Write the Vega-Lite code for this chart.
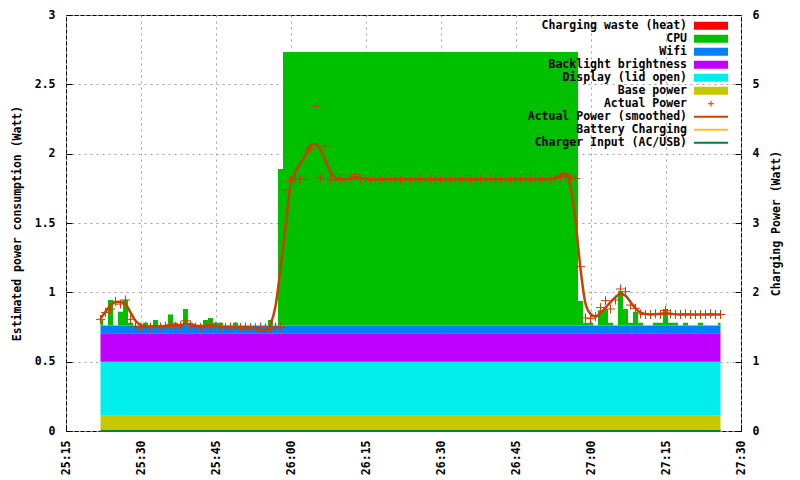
{
 "$schema": "https://vega.github.io/schema/vega-lite/v6.json",
 "width": 675, "height": 416,
 "autosize": {"type": "none"},
 "padding": {"left": 66, "top": 15, "right": 59, "bottom": 49},
 "background": "white",
 "config": {
  "font": "DejaVu Sans Mono",
  "view": {"stroke": "black", "strokeWidth": 1},
  "axis": {"labelFont": "DejaVu Sans Mono", "labelFontSize": 11.5, "labelFontWeight": "bold", "labelColor": "black",
           "titleFont": "DejaVu Sans Mono", "titleFontSize": 11.5, "titleFontWeight": "bold", "titleColor": "black",
           "domain": false, "tickColor": "black", "tickSize": -6, "tickWidth": 1,
           "gridColor": "#a0a0a0", "gridDash": [2, 4], "gridWidth": 1}
 },
 "datasets": {
  "components": [
   {"key": "base", "label": "Base power", "rank": 1},
   {"key": "display", "label": "Display (lid open)", "rank": 2},
   {"key": "backlight", "label": "Backlight brightness", "rank": 3},
   {"key": "wifi", "label": "Wifi", "rank": 4},
   {"key": "cpu", "label": "CPU", "rank": 5},
   {"key": "batt", "label": "Battery Charging", "rank": 9},
   {"key": "input", "label": "Charger Input (AC/USB)", "rank": 10}
  ],
  "power": [
   {"t":1521.9,"base":0.11,"display":0.39,"backlight":0.205,"wifi":0.055,"cpu":0.045,"actual":0.805,"smooth":0.81,"batt":0,"input":0},
   {"t":1522.9,"base":0.11,"display":0.39,"backlight":0.205,"wifi":0.055,"cpu":0,"actual":0.855,"smooth":0.86,"batt":0,"input":0},
   {"t":1523.9,"base":0.11,"display":0.39,"backlight":0.205,"wifi":0.055,"cpu":0.185,"actual":0.88,"smooth":0.905,"batt":0,"input":0},
   {"t":1524.9,"base":0.11,"display":0.39,"backlight":0.205,"wifi":0.055,"cpu":0,"actual":0.935,"smooth":0.93,"batt":0,"input":0},
   {"t":1525.9,"base":0.11,"display":0.39,"backlight":0.205,"wifi":0.055,"cpu":0.1,"actual":0.915,"smooth":0.93,"batt":0,"input":0},
   {"t":1526.9,"base":0.11,"display":0.39,"backlight":0.205,"wifi":0.055,"cpu":0.185,"actual":0.945,"smooth":0.915,"batt":0,"input":0},
   {"t":1527.9,"base":0.11,"display":0.39,"backlight":0.205,"wifi":0.055,"cpu":0.02,"actual":0.805,"smooth":0.855,"batt":0,"input":0},
   {"t":1528.9,"base":0.11,"display":0.39,"backlight":0.205,"wifi":0.055,"cpu":0,"actual":0.752,"smooth":0.795,"batt":0,"input":0},
   {"t":1529.9,"base":0.11,"display":0.39,"backlight":0.205,"wifi":0.055,"cpu":0,"actual":0.745,"smooth":0.765,"batt":0,"input":0},
   {"t":1530.9,"base":0.11,"display":0.39,"backlight":0.205,"wifi":0.055,"cpu":0.02,"actual":0.755,"smooth":0.755,"batt":0,"input":0},
   {"t":1531.9,"base":0.11,"display":0.39,"backlight":0.205,"wifi":0.055,"cpu":0,"actual":0.75,"smooth":0.752,"batt":0,"input":0},
   {"t":1532.9,"base":0.11,"display":0.39,"backlight":0.205,"wifi":0.055,"cpu":0.04,"actual":0.76,"smooth":0.755,"batt":0,"input":0},
   {"t":1533.9,"base":0.11,"display":0.39,"backlight":0.205,"wifi":0.055,"cpu":0,"actual":0.75,"smooth":0.755,"batt":0,"input":0},
   {"t":1534.9,"base":0.11,"display":0.39,"backlight":0.205,"wifi":0.055,"cpu":0,"actual":0.755,"smooth":0.757,"batt":0,"input":0},
   {"t":1535.9,"base":0.11,"display":0.39,"backlight":0.205,"wifi":0.055,"cpu":0.08,"actual":0.765,"smooth":0.76,"batt":0,"input":0},
   {"t":1536.9,"base":0.11,"display":0.39,"backlight":0.205,"wifi":0.055,"cpu":0.02,"actual":0.755,"smooth":0.762,"batt":0,"input":0},
   {"t":1537.9,"base":0.11,"display":0.39,"backlight":0.205,"wifi":0.055,"cpu":0,"actual":0.76,"smooth":0.765,"batt":0,"input":0},
   {"t":1538.9,"base":0.11,"display":0.39,"backlight":0.205,"wifi":0.055,"cpu":0.12,"actual":0.795,"smooth":0.772,"batt":0,"input":0},
   {"t":1539.9,"base":0.11,"display":0.39,"backlight":0.205,"wifi":0.055,"cpu":0.02,"actual":0.765,"smooth":0.768,"batt":0,"input":0},
   {"t":1540.9,"base":0.11,"display":0.39,"backlight":0.205,"wifi":0.055,"cpu":0,"actual":0.75,"smooth":0.76,"batt":0,"input":0},
   {"t":1541.9,"base":0.11,"display":0.39,"backlight":0.205,"wifi":0.055,"cpu":0,"actual":0.745,"smooth":0.757,"batt":0,"input":0},
   {"t":1542.9,"base":0.11,"display":0.39,"backlight":0.205,"wifi":0.055,"cpu":0.04,"actual":0.76,"smooth":0.758,"batt":0,"input":0},
   {"t":1543.9,"base":0.11,"display":0.39,"backlight":0.205,"wifi":0.055,"cpu":0.055,"actual":0.765,"smooth":0.76,"batt":0,"input":0},
   {"t":1544.9,"base":0.11,"display":0.39,"backlight":0.205,"wifi":0.055,"cpu":0.02,"actual":0.755,"smooth":0.757,"batt":0,"input":0},
   {"t":1545.9,"base":0.11,"display":0.39,"backlight":0.205,"wifi":0.055,"cpu":0.02,"actual":0.75,"smooth":0.753,"batt":0,"input":0},
   {"t":1546.9,"base":0.11,"display":0.39,"backlight":0.205,"wifi":0.055,"cpu":0,"actual":0.745,"smooth":0.75,"batt":0,"input":0},
   {"t":1547.9,"base":0.11,"display":0.39,"backlight":0.205,"wifi":0.055,"cpu":0,"actual":0.75,"smooth":0.75,"batt":0,"input":0},
   {"t":1548.9,"base":0.11,"display":0.39,"backlight":0.205,"wifi":0.055,"cpu":0.02,"actual":0.755,"smooth":0.75,"batt":0,"input":0},
   {"t":1549.9,"base":0.11,"display":0.39,"backlight":0.205,"wifi":0.055,"cpu":0,"actual":0.745,"smooth":0.748,"batt":0,"input":0},
   {"t":1550.9,"base":0.11,"display":0.39,"backlight":0.205,"wifi":0.055,"cpu":0,"actual":0.75,"smooth":0.746,"batt":0,"input":0},
   {"t":1551.9,"base":0.11,"display":0.39,"backlight":0.205,"wifi":0.055,"cpu":0,"actual":0.745,"smooth":0.743,"batt":0,"input":0},
   {"t":1552.9,"base":0.11,"display":0.39,"backlight":0.205,"wifi":0.055,"cpu":0,"actual":0.745,"smooth":0.735,"batt":0,"input":0},
   {"t":1553.9,"base":0.11,"display":0.39,"backlight":0.205,"wifi":0.055,"cpu":0,"actual":0.75,"smooth":0.724,"batt":0,"input":0},
   {"t":1554.9,"base":0.11,"display":0.39,"backlight":0.205,"wifi":0.055,"cpu":0,"actual":0.745,"smooth":0.722,"batt":0,"input":0},
   {"t":1555.9,"base":0.11,"display":0.39,"backlight":0.205,"wifi":0.055,"cpu":0.04,"actual":0.74,"smooth":0.77,"batt":0,"input":0},
   {"t":1556.9,"base":0.11,"display":0.39,"backlight":0.205,"wifi":0.055,"cpu":0,"actual":0.75,"smooth":0.9,"batt":0,"input":0},
   {"t":1557.9,"base":0.11,"display":0.39,"backlight":0.205,"wifi":0.055,"cpu":1.13,"actual":0.75,"smooth":1.17,"batt":0,"input":0},
   {"t":1558.9,"base":0.11,"display":0.39,"backlight":0.205,"wifi":0.055,"cpu":1.973,"actual":1.74,"smooth":1.47,"batt":0,"input":0},
   {"t":1559.9,"base":0.11,"display":0.39,"backlight":0.205,"wifi":0.055,"cpu":1.973,"actual":1.805,"smooth":1.77,"batt":0,"input":0},
   {"t":1560.9,"base":0.11,"display":0.39,"backlight":0.205,"wifi":0.055,"cpu":1.973,"actual":1.815,"smooth":1.87,"batt":0,"input":0},
   {"t":1561.9,"base":0.11,"display":0.39,"backlight":0.205,"wifi":0.055,"cpu":1.973,"actual":1.815,"smooth":1.93,"batt":0,"input":0},
   {"t":1562.9,"base":0.11,"display":0.39,"backlight":0.205,"wifi":0.055,"cpu":1.973,"actual":1.815,"smooth":1.99,"batt":0,"input":0},
   {"t":1563.9,"base":0.11,"display":0.39,"backlight":0.205,"wifi":0.055,"cpu":1.973,"actual":2.04,"smooth":2.06,"batt":0,"input":0},
   {"t":1564.9,"base":0.11,"display":0.39,"backlight":0.205,"wifi":0.055,"cpu":1.973,"actual":2.34,"smooth":2.07,"batt":0,"input":0},
   {"t":1565.9,"base":0.11,"display":0.39,"backlight":0.205,"wifi":0.055,"cpu":1.973,"actual":1.825,"smooth":2.03,"batt":0,"input":0},
   {"t":1566.9,"base":0.11,"display":0.39,"backlight":0.205,"wifi":0.055,"cpu":1.973,"actual":2.055,"smooth":1.95,"batt":0,"input":0},
   {"t":1567.9,"base":0.11,"display":0.39,"backlight":0.205,"wifi":0.055,"cpu":1.973,"actual":1.815,"smooth":1.87,"batt":0,"input":0},
   {"t":1568.9,"base":0.11,"display":0.39,"backlight":0.205,"wifi":0.055,"cpu":1.973,"actual":1.81,"smooth":1.825,"batt":0,"input":0},
   {"t":1569.9,"base":0.11,"display":0.39,"backlight":0.205,"wifi":0.055,"cpu":1.973,"actual":1.815,"smooth":1.815,"batt":0,"input":0},
   {"t":1570.9,"base":0.11,"display":0.39,"backlight":0.205,"wifi":0.055,"cpu":1.973,"actual":1.815,"smooth":1.815,"batt":0,"input":0},
   {"t":1571.9,"base":0.11,"display":0.39,"backlight":0.205,"wifi":0.055,"cpu":1.973,"actual":1.82,"smooth":1.82,"batt":0,"input":0},
   {"t":1572.9,"base":0.11,"display":0.39,"backlight":0.205,"wifi":0.055,"cpu":1.973,"actual":1.85,"smooth":1.83,"batt":0,"input":0},
   {"t":1573.9,"base":0.11,"display":0.39,"backlight":0.205,"wifi":0.055,"cpu":1.973,"actual":1.815,"smooth":1.825,"batt":0,"input":0},
   {"t":1574.9,"base":0.11,"display":0.39,"backlight":0.205,"wifi":0.055,"cpu":1.973,"actual":1.815,"smooth":1.818,"batt":0,"input":0},
   {"t":1575.9,"base":0.11,"display":0.39,"backlight":0.205,"wifi":0.055,"cpu":1.973,"actual":1.81,"smooth":1.815,"batt":0,"input":0},
   {"t":1576.9,"base":0.11,"display":0.39,"backlight":0.205,"wifi":0.055,"cpu":1.973,"actual":1.815,"smooth":1.815,"batt":0,"input":0},
   {"t":1577.9,"base":0.11,"display":0.39,"backlight":0.205,"wifi":0.055,"cpu":1.973,"actual":1.815,"smooth":1.815,"batt":0,"input":0},
   {"t":1578.9,"base":0.11,"display":0.39,"backlight":0.205,"wifi":0.055,"cpu":1.973,"actual":1.82,"smooth":1.815,"batt":0,"input":0},
   {"t":1579.9,"base":0.11,"display":0.39,"backlight":0.205,"wifi":0.055,"cpu":1.973,"actual":1.815,"smooth":1.815,"batt":0,"input":0},
   {"t":1580.9,"base":0.11,"display":0.39,"backlight":0.205,"wifi":0.055,"cpu":1.973,"actual":1.815,"smooth":1.815,"batt":0,"input":0},
   {"t":1581.9,"base":0.11,"display":0.39,"backlight":0.205,"wifi":0.055,"cpu":1.973,"actual":1.81,"smooth":1.815,"batt":0,"input":0},
   {"t":1582.9,"base":0.11,"display":0.39,"backlight":0.205,"wifi":0.055,"cpu":1.973,"actual":1.815,"smooth":1.815,"batt":0,"input":0},
   {"t":1583.9,"base":0.11,"display":0.39,"backlight":0.205,"wifi":0.055,"cpu":1.973,"actual":1.815,"smooth":1.815,"batt":0,"input":0},
   {"t":1584.9,"base":0.11,"display":0.39,"backlight":0.205,"wifi":0.055,"cpu":1.973,"actual":1.815,"smooth":1.815,"batt":0,"input":0},
   {"t":1585.9,"base":0.11,"display":0.39,"backlight":0.205,"wifi":0.055,"cpu":1.973,"actual":1.82,"smooth":1.815,"batt":0,"input":0},
   {"t":1586.9,"base":0.11,"display":0.39,"backlight":0.205,"wifi":0.055,"cpu":1.973,"actual":1.815,"smooth":1.815,"batt":0,"input":0},
   {"t":1587.9,"base":0.11,"display":0.39,"backlight":0.205,"wifi":0.055,"cpu":1.973,"actual":1.815,"smooth":1.815,"batt":0,"input":0},
   {"t":1588.9,"base":0.11,"display":0.39,"backlight":0.205,"wifi":0.055,"cpu":1.973,"actual":1.81,"smooth":1.815,"batt":0,"input":0},
   {"t":1589.9,"base":0.11,"display":0.39,"backlight":0.205,"wifi":0.055,"cpu":1.973,"actual":1.815,"smooth":1.815,"batt":0,"input":0},
   {"t":1590.9,"base":0.11,"display":0.39,"backlight":0.205,"wifi":0.055,"cpu":1.973,"actual":1.815,"smooth":1.815,"batt":0,"input":0},
   {"t":1591.9,"base":0.11,"display":0.39,"backlight":0.205,"wifi":0.055,"cpu":1.973,"actual":1.815,"smooth":1.815,"batt":0,"input":0},
   {"t":1592.9,"base":0.11,"display":0.39,"backlight":0.205,"wifi":0.055,"cpu":1.973,"actual":1.82,"smooth":1.815,"batt":0,"input":0},
   {"t":1593.9,"base":0.11,"display":0.39,"backlight":0.205,"wifi":0.055,"cpu":1.973,"actual":1.815,"smooth":1.815,"batt":0,"input":0},
   {"t":1594.9,"base":0.11,"display":0.39,"backlight":0.205,"wifi":0.055,"cpu":1.973,"actual":1.815,"smooth":1.815,"batt":0,"input":0},
   {"t":1595.9,"base":0.11,"display":0.39,"backlight":0.205,"wifi":0.055,"cpu":1.973,"actual":1.81,"smooth":1.815,"batt":0,"input":0},
   {"t":1596.9,"base":0.11,"display":0.39,"backlight":0.205,"wifi":0.055,"cpu":1.973,"actual":1.815,"smooth":1.815,"batt":0,"input":0},
   {"t":1597.9,"base":0.11,"display":0.39,"backlight":0.205,"wifi":0.055,"cpu":1.973,"actual":1.815,"smooth":1.815,"batt":0,"input":0},
   {"t":1598.9,"base":0.11,"display":0.39,"backlight":0.205,"wifi":0.055,"cpu":1.973,"actual":1.815,"smooth":1.815,"batt":0,"input":0},
   {"t":1599.9,"base":0.11,"display":0.39,"backlight":0.205,"wifi":0.055,"cpu":1.973,"actual":1.82,"smooth":1.815,"batt":0,"input":0},
   {"t":1600.9,"base":0.11,"display":0.39,"backlight":0.205,"wifi":0.055,"cpu":1.973,"actual":1.815,"smooth":1.815,"batt":0,"input":0},
   {"t":1601.9,"base":0.11,"display":0.39,"backlight":0.205,"wifi":0.055,"cpu":1.973,"actual":1.815,"smooth":1.815,"batt":0,"input":0},
   {"t":1602.9,"base":0.11,"display":0.39,"backlight":0.205,"wifi":0.055,"cpu":1.973,"actual":1.815,"smooth":1.815,"batt":0,"input":0},
   {"t":1603.9,"base":0.11,"display":0.39,"backlight":0.205,"wifi":0.055,"cpu":1.973,"actual":1.81,"smooth":1.815,"batt":0,"input":0},
   {"t":1604.9,"base":0.11,"display":0.39,"backlight":0.205,"wifi":0.055,"cpu":1.973,"actual":1.815,"smooth":1.815,"batt":0,"input":0},
   {"t":1605.9,"base":0.11,"display":0.39,"backlight":0.205,"wifi":0.055,"cpu":1.973,"actual":1.815,"smooth":1.815,"batt":0,"input":0},
   {"t":1606.9,"base":0.11,"display":0.39,"backlight":0.205,"wifi":0.055,"cpu":1.973,"actual":1.82,"smooth":1.815,"batt":0,"input":0},
   {"t":1607.9,"base":0.11,"display":0.39,"backlight":0.205,"wifi":0.055,"cpu":1.973,"actual":1.815,"smooth":1.815,"batt":0,"input":0},
   {"t":1608.9,"base":0.11,"display":0.39,"backlight":0.205,"wifi":0.055,"cpu":1.973,"actual":1.815,"smooth":1.815,"batt":0,"input":0},
   {"t":1609.9,"base":0.11,"display":0.39,"backlight":0.205,"wifi":0.055,"cpu":1.973,"actual":1.815,"smooth":1.815,"batt":0,"input":0},
   {"t":1610.9,"base":0.11,"display":0.39,"backlight":0.205,"wifi":0.055,"cpu":1.973,"actual":1.82,"smooth":1.815,"batt":0,"input":0},
   {"t":1611.9,"base":0.11,"display":0.39,"backlight":0.205,"wifi":0.055,"cpu":1.973,"actual":1.815,"smooth":1.815,"batt":0,"input":0},
   {"t":1612.9,"base":0.11,"display":0.39,"backlight":0.205,"wifi":0.055,"cpu":1.973,"actual":1.82,"smooth":1.825,"batt":0,"input":0},
   {"t":1613.9,"base":0.11,"display":0.39,"backlight":0.205,"wifi":0.055,"cpu":1.973,"actual":1.835,"smooth":1.845,"batt":0,"input":0},
   {"t":1614.9,"base":0.11,"display":0.39,"backlight":0.205,"wifi":0.055,"cpu":1.973,"actual":1.85,"smooth":1.855,"batt":0,"input":0},
   {"t":1615.9,"base":0.11,"display":0.39,"backlight":0.205,"wifi":0.055,"cpu":1.973,"actual":1.83,"smooth":1.76,"batt":0,"input":0},
   {"t":1616.9,"base":0.11,"display":0.39,"backlight":0.205,"wifi":0.055,"cpu":1.973,"actual":1.82,"smooth":1.52,"batt":0,"input":0},
   {"t":1617.9,"base":0.11,"display":0.39,"backlight":0.205,"wifi":0.055,"cpu":0.177,"actual":1.185,"smooth":1.17,"batt":0,"input":0},
   {"t":1618.9,"base":0.11,"display":0.39,"backlight":0.205,"wifi":0.055,"cpu":0.02,"actual":0.815,"smooth":0.92,"batt":0,"input":0},
   {"t":1619.9,"base":0.11,"display":0.39,"backlight":0.205,"wifi":0.055,"cpu":0.02,"actual":0.81,"smooth":0.845,"batt":0,"input":0},
   {"t":1620.9,"base":0.11,"display":0.39,"backlight":0.205,"wifi":0.055,"cpu":0,"actual":0.824,"smooth":0.825,"batt":0,"input":0},
   {"t":1621.9,"base":0.11,"display":0.39,"backlight":0.205,"wifi":0.055,"cpu":0.11,"actual":0.89,"smooth":0.85,"batt":0,"input":0},
   {"t":1622.9,"base":0.11,"display":0.39,"backlight":0.205,"wifi":0.055,"cpu":0.12,"actual":0.94,"smooth":0.89,"batt":0,"input":0},
   {"t":1623.9,"base":0.11,"display":0.39,"backlight":0.205,"wifi":0.055,"cpu":0.02,"actual":0.88,"smooth":0.93,"batt":0,"input":0},
   {"t":1624.9,"base":0.11,"display":0.39,"backlight":0.205,"wifi":0.055,"cpu":0,"actual":0.945,"smooth":0.965,"batt":0,"input":0},
   {"t":1625.9,"base":0.11,"display":0.39,"backlight":0.205,"wifi":0.055,"cpu":0.25,"actual":1.024,"smooth":0.99,"batt":0,"input":0},
   {"t":1626.9,"base":0.11,"display":0.39,"backlight":0.205,"wifi":0.055,"cpu":0.12,"actual":1.005,"smooth":0.975,"batt":0,"input":0},
   {"t":1627.9,"base":0.11,"display":0.39,"backlight":0.205,"wifi":0.055,"cpu":0.02,"actual":0.908,"smooth":0.93,"batt":0,"input":0},
   {"t":1628.9,"base":0.11,"display":0.39,"backlight":0.205,"wifi":0.055,"cpu":0.1,"actual":0.885,"smooth":0.885,"batt":0,"input":0},
   {"t":1629.9,"base":0.11,"display":0.39,"backlight":0.205,"wifi":0.055,"cpu":0.02,"actual":0.844,"smooth":0.855,"batt":0,"input":0},
   {"t":1630.9,"base":0.11,"display":0.39,"backlight":0.205,"wifi":0.055,"cpu":0,"actual":0.84,"smooth":0.843,"batt":0,"input":0},
   {"t":1631.9,"base":0.11,"display":0.39,"backlight":0.205,"wifi":0.055,"cpu":0,"actual":0.84,"smooth":0.84,"batt":0,"input":0},
   {"t":1632.9,"base":0.11,"display":0.39,"backlight":0.205,"wifi":0.055,"cpu":0.02,"actual":0.845,"smooth":0.842,"batt":0,"input":0},
   {"t":1633.9,"base":0.11,"display":0.39,"backlight":0.205,"wifi":0.055,"cpu":0.02,"actual":0.84,"smooth":0.845,"batt":0,"input":0},
   {"t":1634.9,"base":0.11,"display":0.39,"backlight":0.205,"wifi":0.055,"cpu":0.12,"actual":0.87,"smooth":0.85,"batt":0,"input":0},
   {"t":1635.9,"base":0.11,"display":0.39,"backlight":0.205,"wifi":0.055,"cpu":0.02,"actual":0.845,"smooth":0.846,"batt":0,"input":0},
   {"t":1636.9,"base":0.11,"display":0.39,"backlight":0.205,"wifi":0.055,"cpu":0.02,"actual":0.84,"smooth":0.842,"batt":0,"input":0},
   {"t":1637.9,"base":0.11,"display":0.39,"backlight":0.205,"wifi":0.055,"cpu":0,"actual":0.84,"smooth":0.84,"batt":0,"input":0},
   {"t":1638.9,"base":0.11,"display":0.39,"backlight":0.205,"wifi":0.055,"cpu":0.02,"actual":0.845,"smooth":0.84,"batt":0,"input":0},
   {"t":1639.9,"base":0.11,"display":0.39,"backlight":0.205,"wifi":0.055,"cpu":0,"actual":0.84,"smooth":0.84,"batt":0,"input":0},
   {"t":1640.9,"base":0.11,"display":0.39,"backlight":0.205,"wifi":0.055,"cpu":0,"actual":0.84,"smooth":0.84,"batt":0,"input":0},
   {"t":1641.9,"base":0.11,"display":0.39,"backlight":0.205,"wifi":0.055,"cpu":0.02,"actual":0.84,"smooth":0.84,"batt":0,"input":0},
   {"t":1642.9,"base":0.11,"display":0.39,"backlight":0.205,"wifi":0.055,"cpu":0,"actual":0.84,"smooth":0.84,"batt":0,"input":0},
   {"t":1643.9,"base":0.11,"display":0.39,"backlight":0.205,"wifi":0.055,"cpu":0,"actual":0.845,"smooth":0.84,"batt":0,"input":0},
   {"t":1644.9,"base":0.11,"display":0.39,"backlight":0.205,"wifi":0.055,"cpu":0,"actual":0.84,"smooth":0.84,"batt":0,"input":0},
   {"t":1645.9,"base":0.11,"display":0.39,"backlight":0.205,"wifi":0.055,"cpu":0.02,"actual":0.84,"smooth":0.84,"batt":0,"input":0}
  ]
 },
 "layer": [
  {
   "layer": [
    {
     "data": {"name": "power"},
     "transform": [
      {"fold": ["base", "display", "backlight", "wifi", "cpu"], "as": ["key", "watts"]},
      {"lookup": "key", "from": {"data": {"name": "components"}, "key": "key", "fields": ["label", "rank"]}}
     ],
     "mark": {"type": "area", "interpolate": "step"},
     "encoding": {
      "x": {"field": "t", "type": "quantitative", "scale": {"domain": [1515, 1650], "nice": false, "zero": false},
            "axis": {"title": null, "values": [1515, 1530, 1545, 1560, 1575, 1590, 1605, 1620, 1635, 1650],
                     "labelExpr": "floor(datum.value / 60) + ':' + (datum.value % 60 < 10 ? '0' : '') + (datum.value % 60)",
                     "labelAngle": 270, "labelPadding": 15, "grid": true}},
      "y": {"field": "watts", "type": "quantitative", "stack": "zero", "title": "Estimated power consumption (Watt)",
            "scale": {"domain": [0, 3], "nice": false},
            "axis": {"values": [0, 0.5, 1, 1.5, 2, 2.5, 3], "format": "~g", "labelPadding": 17, "titlePadding": 12, "grid": true}},
      "color": {"field": "label", "type": "nominal",
               "scale": {"domain": ["Charging waste (heat)", "CPU", "Wifi", "Backlight brightness", "Display (lid open)", "Base power", "Actual Power", "Actual Power (smoothed)", "Battery Charging", "Charger Input (AC/USB)"],
                         "range": ["#ff0000", "#00c000", "#0080ff", "#c000ff", "#00eeee", "#c8c800", "#c84000", "#c84000", "#ffc020", "#008040"]},
               "legend": {"orient": "none", "legendX": 460, "legendY": 5, "title": null, "padding": 0,
                          "labelFont": "DejaVu Sans Mono", "labelFontSize": 11.5, "labelFontWeight": "bold", "labelColor": "black",
                          "labelLimit": 400, "symbolSize": 64, "rowPadding": 0,
                          "encode": {
                           "symbols": {"update": {
                             "shape": {"signal": "datum.value === 'Actual Power' ? 'M-0.75,0H0.75M0,-0.75V0.75' : ((datum.value === 'Actual Power (smoothed)' || datum.value === 'Battery Charging' || datum.value === 'Charger Input (AC/USB)') ? 'M-4.25,0H4.25' : 'M-4.25,-1H4.25V1H-4.25Z')"},
                             "fill": {"signal": "indexof(['Actual Power', 'Actual Power (smoothed)', 'Battery Charging', 'Charger Input (AC/USB)'], datum.value) >= 0 ? 'transparent' : scale('color', datum.value)"},
                             "stroke": {"signal": "indexof(['Actual Power', 'Actual Power (smoothed)', 'Battery Charging', 'Charger Input (AC/USB)'], datum.value) >= 0 ? scale('color', datum.value) : 'transparent'"},
                             "strokeWidth": {"signal": "datum.value === 'Actual Power' ? 1 : (indexof(['Actual Power (smoothed)', 'Battery Charging', 'Charger Input (AC/USB)'], datum.value) >= 0 ? 2 : 0)"},
                             "opacity": {"value": 1},
                             "x": {"value": 185}}},
                           "labels": {"update": {
                             "x": {"value": 161}, "align": {"value": "right"}}}
                          }}},
      "order": {"field": "rank", "type": "quantitative", "sort": "ascending"}
     }
    },
    {
     "data": {"name": "power"},
     "mark": {"type": "point", "shape": "M-1,0H1M0,-1V1", "size": 81, "filled": false, "strokeWidth": 1, "opacity": 1},
     "encoding": {
      "x": {"field": "t", "type": "quantitative"},
      "y": {"field": "actual", "type": "quantitative", "title": "Estimated power consumption (Watt)"},
      "color": {"datum": "Actual Power"}
     }
    },
    {
     "data": {"name": "power"},
     "mark": {"type": "line", "interpolate": "monotone", "strokeWidth": 2.5},
     "encoding": {
      "x": {"field": "t", "type": "quantitative"},
      "y": {"field": "smooth", "type": "quantitative", "title": "Estimated power consumption (Watt)"},
      "color": {"datum": "Actual Power (smoothed)"}
     }
    }
   ]
  },
  {
   "data": {"name": "power"},
   "transform": [
    {"fold": ["batt", "input"], "as": ["key", "watts"]},
    {"lookup": "key", "from": {"data": {"name": "components"}, "key": "key", "fields": ["label", "rank"]}}
   ],
   "mark": {"type": "line", "strokeWidth": 2},
   "encoding": {
    "x": {"field": "t", "type": "quantitative"},
    "y": {"field": "watts", "type": "quantitative", "title": "Charging Power (Watt)",
          "scale": {"domain": [0, 6], "nice": false},
          "axis": {"orient": "right", "values": [0, 1, 2, 3, 4, 5, 6], "format": "d", "labelPadding": 17, "titlePadding": 23, "titleAngle": 270, "grid": false}},
    "color": {"field": "label", "type": "nominal"}
   }
  }
 ],
 "resolve": {"scale": {"y": "independent"}}
}
